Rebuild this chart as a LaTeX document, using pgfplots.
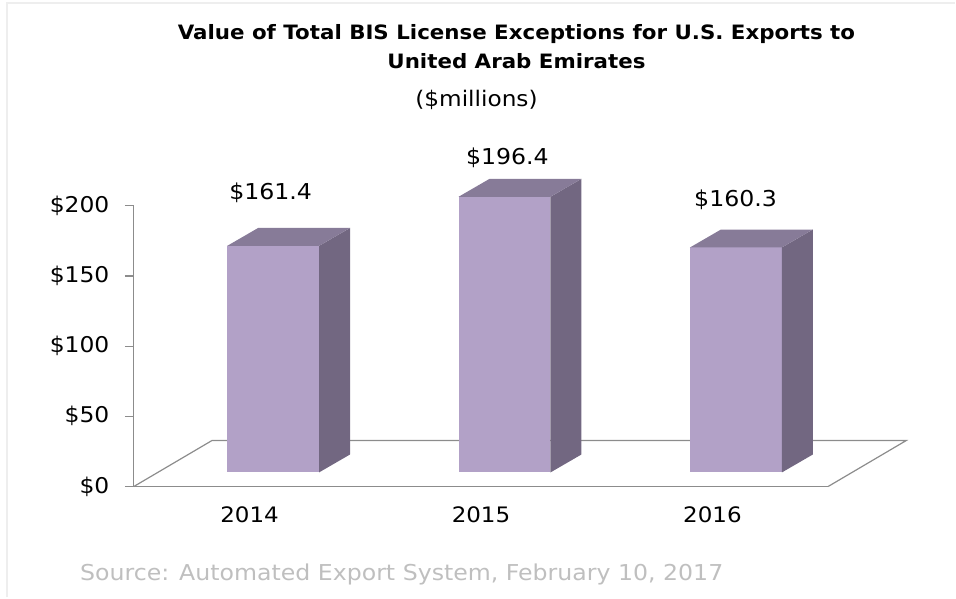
\documentclass[border=0pt]{standalone}
\usepackage{fontspec}
\setmainfont{DejaVu Sans}[FakeStretch=1.08]
\usepackage{pgfplots}
\pgfplotsset{compat=1.18}
\definecolor{barfront}{HTML}{B2A1C7}
\definecolor{barside}{HTML}{726781}
\definecolor{bartop}{HTML}{877B98}
\definecolor{axisgray}{HTML}{8C8C8C}
\definecolor{srcgray}{HTML}{BFBFBF}
\definecolor{framegray}{HTML}{EEEEEE}

% 3D bar: #1 = category centre, #2 = value
\newcommand\threedbar[2]{%
  \pgfmathsetmacro\xa{#1-0.097}%
  \pgfmathsetmacro\xb{#1+0.300}%
  \pgfmathsetmacro\xc{#1+0.434}%
  \pgfmathsetmacro\xd{#1+0.037}%
  \pgfmathsetmacro\yt{10+#2}%
  \pgfmathsetmacro\ytt{22.8+#2}%
  \edef\temp{%
    \noexpand\addplot[fill=barfront,draw=none] coordinates {(\xa,10) (\xb,10) (\xb,\yt) (\xa,\yt)} -- cycle;
    \noexpand\addplot[fill=barside,draw=none] coordinates {(\xb,10) (\xc,22.8) (\xc,\ytt) (\xb,\yt)} -- cycle;
    \noexpand\addplot[fill=bartop,draw=none] coordinates {(\xa,\yt) (\xb,\yt) (\xc,\ytt) (\xd,\ytt)} -- cycle;
  }\temp
}

\begin{document}
\begin{tikzpicture}
\begin{axis}[
  name=ax,
  at={(0,0)}, anchor=south west,
  scale only axis,
  width=695pt, height=281pt,
  xmin=0, xmax=3, ymin=0, ymax=200,
  clip=false,
  axis lines*=left,
  axis line style={axisgray, line width=1.2pt},
  xtick={0.5,1.5,2.5},
  xticklabels={2014,2015,2016},
  x tick style={draw=none},
  extra x ticks={0,1,2,3},
  extra x tick labels={},
  extra x tick style={tick style={axisgray, line width=1.2pt, draw=axisgray}, major tick length=9pt, tick align=outside},
  ytick={0,50,100,150,200},
  yticklabels={\$0,\$50,\$100,\$150,\$200},
  y tick style={axisgray, line width=1.2pt},
  tick align=outside,
  major tick length=9pt,
  /pgf/number format/assume math mode=true,
  yticklabel style={font=\fontsize{21.7}{25}\selectfont, xshift=-12pt},
  xticklabel style={font=\fontsize{21.3}{25}\selectfont, yshift=-8pt},
]
% floor
\addplot[axisgray, line width=1.2pt, no marks] coordinates {(0,0) (0.337,32.7) (3.337,32.7) (3,0)};
\threedbar{0.5}{161.4}
\threedbar{1.5}{196.4}
\threedbar{2.5}{160.3}
\node[font=\fontsize{21.9}{26}\selectfont] at (axis cs:0.591,209.3) {\$161.4};
\node[font=\fontsize{21.9}{26}\selectfont] at (axis cs:1.614,234.2) {\$196.4};
\node[font=\fontsize{21.9}{26}\selectfont] at (axis cs:2.600,204.3) {\$160.3};
\end{axis}
\pgfresetboundingbox
\path (ax.south west) ++(-134pt,-111pt) rectangle ++(956pt,598pt);
\draw[framegray, line width=2pt] ([shift={(-127pt,-111pt)}]ax.south west) -- ([shift={(-127pt,484pt)}]ax.south west) -- ([shift={(822pt,484pt)}]ax.south west);
\node[font=\fontsize{19.8}{29}\selectfont\bfseries, align=center] at ([shift={(383pt,440pt)}]ax.south west) {Value of Total BIS License Exceptions for U.S. Exports to\\United Arab Emirates};
\node[font=\fontsize{21.5}{24}\selectfont] at ([shift={(343pt,387pt)}]ax.south west) {(\$millions)};
\node[font=\fontsize{21.9}{24}\selectfont, text=srcgray, anchor=west, inner sep=0pt] at ([shift={(-54pt,-88pt)}]ax.south west) {Source: Automated Export System, February 10, 2017};
\end{tikzpicture}
\end{document}
